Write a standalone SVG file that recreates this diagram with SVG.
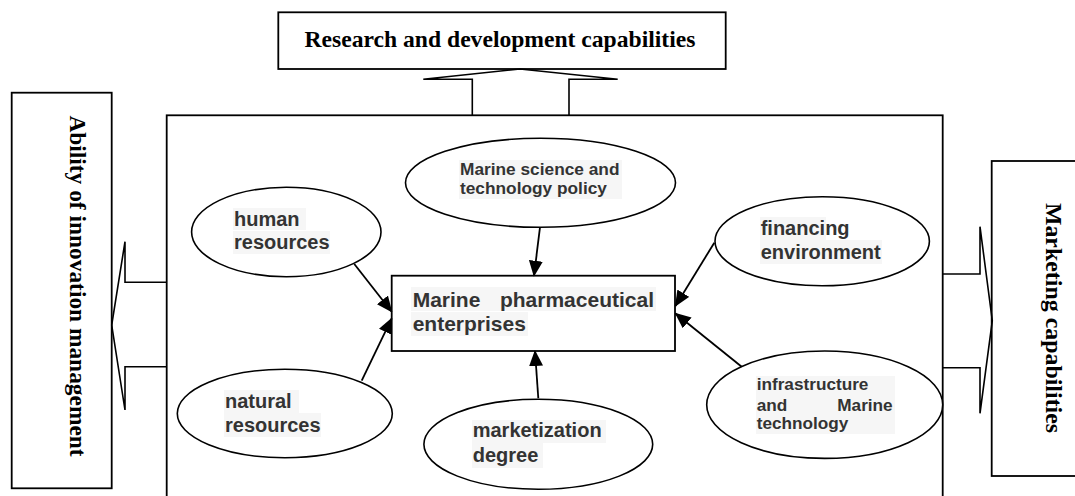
<svg xmlns="http://www.w3.org/2000/svg" width="1075" height="496" viewBox="0 0 1075 496">
  <style>
    .box { fill: #ffffff; stroke: #000000; stroke-width: 1.8; }
    .ell { fill: #ffffff; stroke: #000000; stroke-width: 1.6; }
    .big { fill: none; stroke: #000000; stroke-width: 1.6; stroke-linejoin: miter; }
    .hl { fill: #f6f6f6; }
    .serif { font-family: "Liberation Serif", "Times New Roman", serif; font-weight: bold; fill: #000000; }
    .sans { font-family: "Liberation Sans", Arial, sans-serif; font-weight: bold; fill: #333333; }
    .conn { stroke: #000000; stroke-width: 1.8; fill: none; marker-end: url(#head); }
  </style>
  <defs>
    <marker id="head" markerUnits="userSpaceOnUse" markerWidth="16" markerHeight="14" refX="15" refY="7" orient="auto">
      <path d="M0,0 L16,7 L0,14 Z" fill="#000000"/>
    </marker>
  </defs>

  <rect width="1075" height="496" fill="#ffffff"/>

  <!-- outer capability boxes -->
  <g id="rd-capabilities">
    <rect class="box" x="278.3" y="12.3" width="447.4" height="56.7"/>
    <text class="serif" x="500" y="46.5" font-size="23.6" text-anchor="middle">Research and development capabilities</text>
  </g>

  <g id="innovation-management">
    <rect class="box" x="11.7" y="92.7" width="100" height="395.6"/>
    <text class="serif" font-size="23.4" text-anchor="middle" transform="translate(70,286) rotate(90)">Ability of innovation management</text>
  </g>

  <g id="marketing-capabilities">
    <rect class="box" x="991.7" y="161" width="100" height="315"/>
    <text class="serif" font-size="23.9" text-anchor="middle" transform="translate(1046,318) rotate(90)">Marketing capabilities</text>
  </g>

  <!-- enclosing frame of the enterprise environment -->
  <g id="environment-frame">
    <rect class="box" x="166.7" y="115.3" width="776" height="400" fill="none"/>
  </g>

  <!-- hollow block arrows leaving the frame -->
  <g id="block-arrows">
    <path class="big" d="M472.3,115.3 V79.3 H423.3 L520,69 L617.7,79.3 H569 V115.3"/>
    <path class="big" d="M166.7,282.3 H125 V241.7 L111.7,325 L125,410 V366.7 H166.7"/>
    <path class="big" d="M942.7,274 H980 V226.7 L992.3,320.7 L980,413.3 V367.7 H942.7"/>
  </g>

  <!-- central node -->
  <g id="enterprises">
    <rect class="box" x="391.7" y="275.7" width="283.3" height="75.3"/>
    <rect class="hl" x="411" y="287" width="245" height="24"/>
    <rect class="hl" x="411" y="312" width="117" height="24"/>
    <text class="sans" x="412.7" y="306.7" font-size="21">Marine</text>
    <text class="sans" x="654" y="306.7" font-size="21" text-anchor="end">pharmaceutical</text>
    <text class="sans" x="412.7" y="330.7" font-size="21">enterprises</text>
  </g>

  <!-- factor nodes -->
  <g id="science-policy">
    <ellipse class="ell" cx="540.5" cy="182.8" rx="135" ry="44.5"/>
    <rect class="hl" x="459" y="160" width="163" height="39"/>
    <text class="sans" x="460" y="175" font-size="17.3">Marine science and</text>
    <text class="sans" x="460" y="194.3" font-size="17.3">technology policy</text>
  </g>

  <g id="human-resources">
    <ellipse class="ell" cx="286.3" cy="232" rx="94.7" ry="44.7"/>
    <rect class="hl" x="233" y="208" width="73" height="22"/>
    <rect class="hl" x="233" y="231" width="97" height="23"/>
    <text class="sans" x="234" y="226" font-size="20">human</text>
    <text class="sans" x="234" y="249.3" font-size="20">resources</text>
  </g>

  <g id="financing-environment">
    <ellipse class="ell" cx="822.2" cy="241.2" rx="107.2" ry="44.5"/>
    <rect class="hl" x="760" y="217" width="66" height="23"/>
    <rect class="hl" x="760" y="240" width="122" height="24"/>
    <text class="sans" x="760.7" y="235" font-size="20">financing</text>
    <text class="sans" x="760.7" y="259" font-size="20">environment</text>
  </g>

  <g id="natural-resources">
    <ellipse class="ell" cx="284.8" cy="413.5" rx="107.5" ry="44.2"/>
    <rect class="hl" x="224" y="390" width="75" height="23"/>
    <rect class="hl" x="224" y="413" width="97" height="24"/>
    <text class="sans" x="225" y="408.3" font-size="20">natural</text>
    <text class="sans" x="225" y="431.7" font-size="20">resources</text>
  </g>

  <g id="marketization-degree">
    <ellipse class="ell" cx="538.3" cy="444.3" rx="114.4" ry="45"/>
    <rect class="hl" x="472" y="420" width="134" height="23"/>
    <rect class="hl" x="472" y="443" width="71" height="25"/>
    <text class="sans" x="472.7" y="436.7" font-size="20">marketization</text>
    <text class="sans" x="472.7" y="462" font-size="20">degree</text>
  </g>

  <g id="infrastructure-technology">
    <ellipse class="ell" cx="824.7" cy="404.7" rx="118" ry="53.7"/>
    <rect class="hl" x="756" y="376" width="139" height="58"/>
    <text class="sans" x="756.7" y="390" font-size="17.2">infrastructure</text>
    <text class="sans" x="756.7" y="410.7" font-size="17.2">and</text>
    <text class="sans" x="892.7" y="410.7" font-size="17.2" text-anchor="end">Marine</text>
    <text class="sans" x="756.7" y="429.3" font-size="17.2">technology</text>
  </g>

  <!-- influence connectors -->
  <g id="connectors">
    <line class="conn" x1="354.3" y1="264" x2="391.7" y2="311.7"/>
    <line class="conn" x1="540" y1="227.3" x2="534" y2="275.7"/>
    <line class="conn" x1="714.3" y1="242.7" x2="675.5" y2="306"/>
    <line class="conn" x1="741.7" y1="366.7" x2="675.5" y2="313.5"/>
    <line class="conn" x1="361.7" y1="380.7" x2="391.7" y2="318.3"/>
    <line class="conn" x1="538.3" y1="398.3" x2="535" y2="351"/>
  </g>
</svg>
